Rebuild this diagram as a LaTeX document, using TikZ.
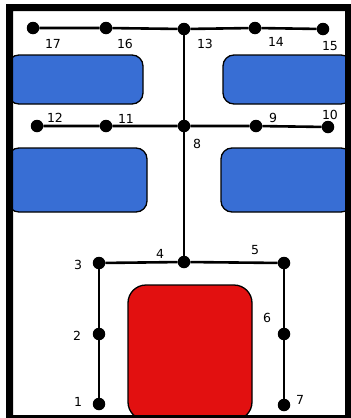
\documentclass[tikz,border=0pt]{standalone}
\usepackage{fontspec}
\setmainfont{DejaVu Sans}
\begin{document}
\begin{tikzpicture}[x=1pt,y=-1pt,
  dot/.style={circle,fill=black,inner sep=0pt,minimum size=12.5pt},
  lbl/.style={font=\fontsize{12.5}{14}\selectfont,inner sep=0pt},
  edge/.style={line width=2.6pt},
  bluebox/.style={fill=boxblue,draw=black,line width=1.3pt,rounded corners=11pt},
  redbox/.style={fill=boxred,draw=black,line width=1.3pt,rounded corners=18pt}]
\definecolor{boxblue}{RGB}{56,110,212}
\definecolor{boxred}{RGB}{226,16,16}
\useasboundingbox (0,0) rectangle (351,418);
\fill[white] (0,0) rectangle (351,418);
% boxes
\draw[bluebox] (8,55) rectangle (143,104);
\draw[bluebox] (223,55) rectangle (352,104);
\draw[bluebox] (8,148) rectangle (147,212);
\draw[bluebox] (221,148) rectangle (352,212);
\draw[redbox] (128,285) rectangle (252,420);
% frame
\fill[black,even odd rule] (6,4) rectangle (351,418) (13,11) rectangle (345,415);
% dots
\node[dot] (n17) at (33,28) {};
\node[dot] (n16) at (106,28) {};
\node[dot] (n13) at (184,29) {};
\node[dot] (n14) at (255,28) {};
\node[dot] (n15) at (323,29) {};
\node[dot] (n12) at (37,126) {};
\node[dot] (n11) at (106,126) {};
\node[dot] (n8) at (184,126) {};
\node[dot] (n9) at (256,126) {};
\node[dot] (n10) at (328,127) {};
\node[dot] (n3) at (99,263) {};
\node[dot] (n4) at (184,262) {};
\node[dot] (n5) at (284,263) {};
\node[dot] (n2) at (99,334) {};
\node[dot] (n1) at (99,404) {};
\node[dot] (n6) at (284,334) {};
\node[dot] (n7) at (284,405) {};
% edges
\draw[edge] (n17) -- (n16) -- (n13) -- (n14) -- (n15);
\draw[edge] (n12) -- (n11) -- (n8) -- (n9) -- (n10);
\draw[edge] (n13) -- (n8) -- (n4);
\draw[edge] (n3) -- (n4) -- (n5);
\draw[edge] (n3) -- (n2) -- (n1);
\draw[edge] (n5) -- (n6) -- (n7);
% labels
\node[lbl] (t17) at (53,44) {17};
\node[lbl] (t16) at (125,44) {16};
\node[lbl] (t13) at (205,44) {13};
\node[lbl] (t14) at (276,42) {14};
\node[lbl] (t15) at (330,46) {15};
\node[lbl] (t12) at (55,118) {12};
\node[lbl] (t11) at (126,119) {11};
\node[lbl] (t9) at (273,118) {9};
\node[lbl] (t10) at (330,115) {10};
\node[lbl] (t8) at (197,144) {8};
\node[lbl] (t3) at (78,265) {3};
\node[lbl] (t4) at (160,254) {4};
\node[lbl] (t5) at (255,250) {5};
\node[lbl] (t2) at (77,336) {2};
\node[lbl] (t1) at (78,402) {1};
\node[lbl] (t6) at (267,318) {6};
\node[lbl] (t7) at (300,400) {7};
\end{tikzpicture}
\end{document}
